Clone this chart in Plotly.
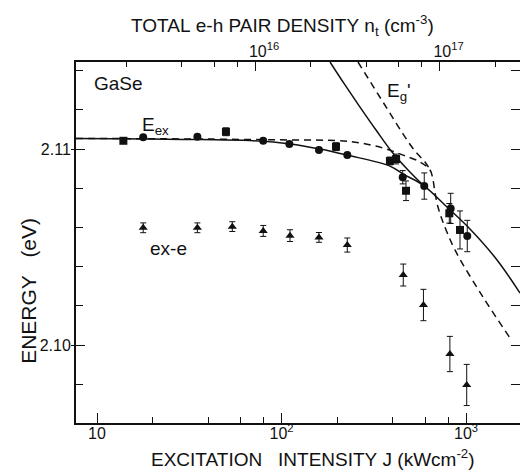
import plotly.graph_objects as go

# ---------------- data ----------------
# E_ex, circles: J (kW/cm^2), energy (eV), error (eV)
circ_J = [17.8, 35.0, 79.6, 110.3, 159.6, 227.3, 454, 594, 826, 1016]
circ_E = [2.11060, 2.11063, 2.11042, 2.11026, 2.10995, 2.10969, 2.10856, 2.10811, 2.10697, 2.10556]
circ_err = [0, 0, 0, 0, 0, 0, 0.00034, 0.00067, 0.00077, 0.0008]

# E_ex, squares
sq_J = [13.9, 50.0, 197.5, 387, 418, 473, 812, 928]
sq_E = [2.11042, 2.11088, 2.11012, 2.10939, 2.10949, 2.10787, 2.10672, 2.10587]
sq_err = [0, 0.0002, 0.0002, 0.0002, 0.00025, 0.0005, 0.0005, 0.00097]

# ex-e, triangles
tri_J = [17.8, 35.0, 54.1, 79.6, 111.2, 159.6, 227.3, 457, 588, 818, 1009]
tri_E = [2.10598, 2.10598, 2.10604, 2.10582, 2.10558, 2.10549, 2.10510, 2.10357, 2.10204, 2.09954, 2.09796]
tri_err = [0.00025, 0.00025, 0.00025, 0.00028, 0.0003, 0.00025, 0.00036, 0.00056, 0.0008, 0.0009, 0.00105]

# theory curves
solid_ex_J = [7.69, 19.4, 36.1, 67.4, 111.2, 161.7, 226.6, 387, 456, 585, 789, 1051, 1473, 1963]
solid_ex_E = [2.11054, 2.11051, 2.11048, 2.11043, 2.11026, 2.11000, 2.10969, 2.10913, 2.10872, 2.10816,
              2.10704, 2.10592, 2.10434, 2.10265]
solid_g_J = [183.2, 220.9, 266.4, 325.3, 397.0, 484.9, 585]
solid_g_E = [2.11444, 2.11327, 2.11214, 2.11097, 2.10985, 2.10893, 2.10816]

dash_ex_J = [7.69, 36.1, 115.3, 199.9, 266.4, 354.8, 456, 563.7, 638.6, 662.6, 679.4, 705, 750, 871.6, 1236, 1732]
dash_ex_E = [2.11054, 2.11051, 2.11046, 2.11043, 2.11031, 2.11005, 2.10969, 2.10934, 2.10893, 2.10842,
             2.10776, 2.10704, 2.10628, 2.10485, 2.10245, 2.10036]
dash_g_J = [259.8, 313.3, 377.7, 455.4, 529.0, 599.6, 638.6]
dash_g_E = [2.11444, 2.11321, 2.11199, 2.11077, 2.10990, 2.10934, 2.10893]

# axes
x_range_log = [0.8862, 3.2927]
nt_range_log = [15.0298, 17.4363]
y_range = [2.09602, 2.11444]
y_major = [2.10, 2.11]
y_minor = [2.096, 2.098, 2.102, 2.104, 2.106, 2.108, 2.112, 2.114]
y_all = [2.096, 2.098, 2.100, 2.102, 2.104, 2.106, 2.108, 2.110, 2.112, 2.114]
x_major = [10, 100, 1000]
x_major_text = ["10", "10<sup>2</sup>", "10<sup>3</sup>"]
x_minor = [20, 40, 60, 80, 200, 400, 600, 800]
nt_major = [1e16, 1e17]
nt_major_text = ["10<sup>16</sup>", "10<sup>17</sup>"]
nt_minor = [2e15, 4e15, 6e15, 8e15, 2e16, 4e16, 6e16, 8e16, 2e17]

FONT = "Liberation Sans, Arial, sans-serif"
BLACK = "#111111"
NB = "\u00a0"

fig = go.Figure()

line_style = dict(color=BLACK, width=1.5)
fig.add_trace(go.Scatter(x=solid_ex_J, y=solid_ex_E, mode="lines", line=line_style,
                         line_shape="spline", hoverinfo="skip"))
fig.add_trace(go.Scatter(x=solid_g_J, y=solid_g_E, mode="lines", line=line_style,
                         line_shape="spline", hoverinfo="skip"))
fig.add_trace(go.Scatter(x=dash_ex_J, y=dash_ex_E, mode="lines",
                         line=dict(color=BLACK, width=1.5, dash="7px,5px"),
                         line_shape="spline", hoverinfo="skip"))
fig.add_trace(go.Scatter(x=dash_g_J, y=dash_g_E, mode="lines",
                         line=dict(color=BLACK, width=1.5, dash="7px,5px"),
                         line_shape="spline", hoverinfo="skip"))

def err(vals):
    return dict(type="data", array=vals, visible=True, color=BLACK, thickness=1, width=3)

fig.add_trace(go.Scatter(x=circ_J, y=circ_E, mode="markers", error_y=err(circ_err),
                         marker=dict(symbol="circle", size=8, color=BLACK)))
fig.add_trace(go.Scatter(x=sq_J, y=sq_E, mode="markers", error_y=err(sq_err),
                         marker=dict(symbol="square", size=8, color=BLACK)))
fig.add_trace(go.Scatter(x=tri_J, y=tri_E, mode="markers", error_y=err(tri_err),
                         marker=dict(symbol="triangle-up", size=8, color=BLACK)))

# dummy traces so that the extra axes are drawn
fig.add_trace(go.Scatter(x=[None], y=[None], xaxis="x2", yaxis="y2", showlegend=False))
fig.add_trace(go.Scatter(x=[None], y=[None], xaxis="x", yaxis="y3", showlegend=False))

tickfont = dict(family=FONT, size=16, color=BLACK)

fig.update_layout(
    width=520, height=474,
    margin=dict(l=76, r=0, t=62, b=51),
    paper_bgcolor="white", plot_bgcolor="white",
    showlegend=False,
    font=dict(family=FONT, color=BLACK),
    xaxis=dict(type="log", range=x_range_log, showgrid=False, zeroline=False,
               showline=True, linecolor=BLACK, linewidth=2, mirror=False,
               ticks="inside", ticklen=10, tickwidth=1.2, tickcolor=BLACK,
               tickmode="array", tickvals=x_major, ticktext=x_major_text, tickfont=tickfont,
               ticklabelstandoff=-5,
               minor=dict(tickmode="array", tickvals=x_minor, ticks="inside", ticklen=6,
                          tickwidth=1, tickcolor=BLACK, showgrid=False)),
    xaxis2=dict(type="log", range=nt_range_log, overlaying="x", side="top", anchor="y",
                showgrid=False, zeroline=False, showline=True, linecolor=BLACK, linewidth=2,
                ticks="inside", ticklen=9, tickwidth=1.2, tickcolor=BLACK,
                tickmode="array", tickvals=nt_major, ticktext=nt_major_text, tickfont=tickfont,
                ticklabelshift=9, ticklabelstandoff=-3,
                minor=dict(tickmode="array", tickvals=nt_minor, ticks="inside", ticklen=5,
                           tickwidth=1, tickcolor=BLACK, showgrid=False)),
    yaxis=dict(range=y_range, showgrid=False, zeroline=False, showline=True,
               linecolor=BLACK, linewidth=2, ticks="inside", ticklen=9, tickwidth=1.2,
               tickcolor=BLACK, tickmode="array", tickvals=y_major,
               ticktext=["2.10", "2.11"], tickfont=tickfont,
               minor=dict(tickmode="array", tickvals=y_minor, ticks="inside", ticklen=7,
                          tickwidth=1, tickcolor=BLACK, showgrid=False)),
    yaxis2=dict(range=y_range, overlaying="y", side="right", anchor="x", showgrid=False,
                zeroline=False, showline=False, showticklabels=False,
                ticks="inside", ticklen=9, tickwidth=1.2, tickcolor=BLACK,
                tickmode="array", tickvals=y_all),
    yaxis3=dict(range=y_range, overlaying="y", side="left", anchor="x", showgrid=False,
                zeroline=False, showline=False, showticklabels=False,
                ticks="outside", ticklen=4, tickwidth=1.2, tickcolor=BLACK,
                tickmode="array", tickvals=y_major),
)

lab = dict(family=FONT, size=19, color=BLACK)
title_font = dict(family=FONT, size=19, color=BLACK)
ann = [
    dict(text="GaSe", x=0.973, y=2.11332, xref="x", yref="y", xanchor="left", yanchor="middle",
         font=lab, showarrow=False),
    dict(text="E<sub>ex</sub>", x=1.233, y=2.11118, xref="x", yref="y", xanchor="left",
         yanchor="middle", font=lab, showarrow=False),
    dict(text="E<sub>g</sub>'", x=2.561, y=2.11290, xref="x", yref="y", xanchor="left",
         yanchor="middle", font=lab, showarrow=False),
    dict(text="ex-e", x=1.276, y=2.10492, xref="x", yref="y", xanchor="left", yanchor="middle",
         font=lab, showarrow=False),
    dict(text=f"EXCITATION{NB}{NB}{NB}INTENSITY{NB}J{NB}(kWcm<sup>-2</sup>)", x=0.534, y=-0.097,
         xref="paper", yref="paper", xanchor="center", yanchor="middle",
         font=title_font, showarrow=False),
    dict(text=f"TOTAL{NB}e-h{NB}PAIR{NB}DENSITY{NB}n<sub>t</sub>{NB}(cm<sup>-3</sup>)", x=0.464,
         y=1.10, xref="paper", yref="paper", xanchor="center", yanchor="middle",
         font=title_font, showarrow=False),
    dict(text=f"ENERGY{NB}{NB}{NB}(eV)", x=-0.106, y=0.366, xref="paper", yref="paper",
         xanchor="center", yanchor="middle", textangle=-90,
         font=dict(family=FONT, size=21, color=BLACK), showarrow=False),
]
fig.update_layout(annotations=ann)

fig.write_html("out.html")
